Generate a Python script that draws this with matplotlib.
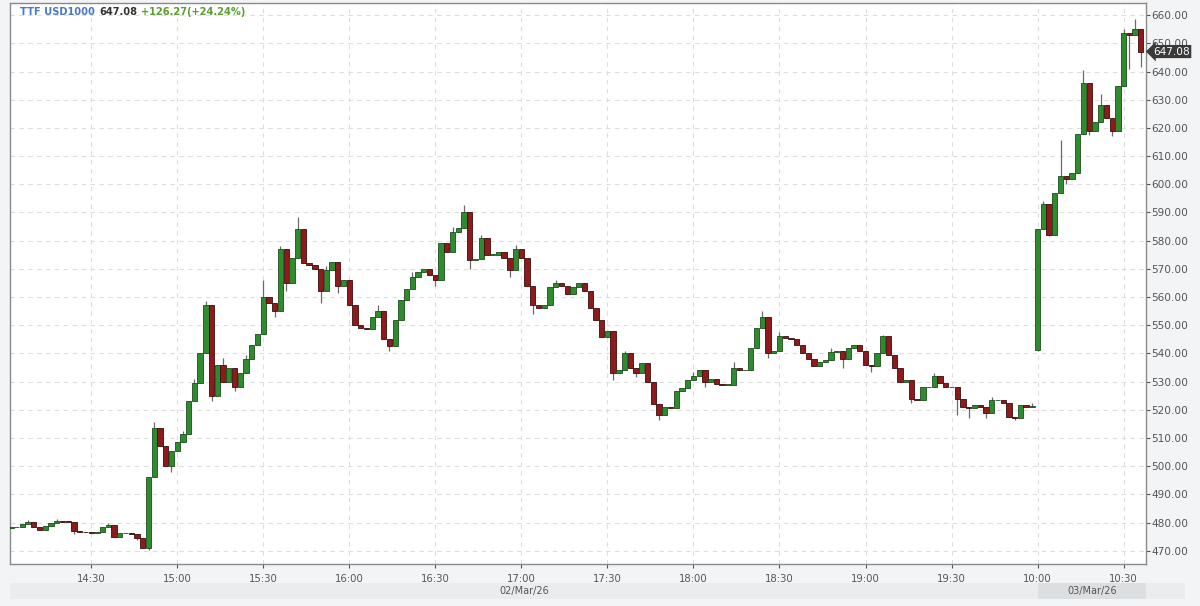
import matplotlib
matplotlib.use("Agg")
import matplotlib.pyplot as plt
import numpy as np
from matplotlib.patches import Rectangle
import matplotlib.transforms as mtransforms

# ---------------- data (2-minute candles, time index in minutes from 14:00; 20:00 joins 10:00 next day)
day1_t = list(range(2, 360, 2))
day1_open = 478.0
day1_close = [
    478.3, 478.5, 479.5, 480.2, 478.5, 477.5, 478.8, 480.0, 480.5, 480.3,
    480.2, 477.0, 476.8, 476.5, 476.2, 476.8, 478.4, 479.0, 475.0, 476.2,
    476.3, 476.0, 474.5, 471.0, 496.0, 513.5, 507.0, 500.0, 505.5, 508.5,
    511.5, 523.0, 529.5, 540.0, 557.0, 525.0, 536.0, 530.0, 535.0, 528.0,
    533.0, 538.0, 543.0, 547.0, 560.0, 558.0, 555.0, 577.0, 565.0, 574.0,
    584.0, 572.0, 571.5, 570.0, 562.0, 569.5, 572.5, 564.0, 566.0, 557.0,
    550.0, 549.0, 548.5, 553.0, 555.0, 545.0, 542.5, 552.0, 559.0, 563.0,
    567.0, 569.0, 570.0, 567.7, 566.0, 579.0, 576.0, 583.0, 584.5, 590.0,
    573.0, 573.5, 581.0, 575.0, 575.0, 576.0, 574.0, 569.5, 577.0, 574.0,
    564.0, 557.0, 556.0, 557.0, 563.5, 565.0, 564.0, 561.0, 563.5, 565.0,
    562.0, 556.0, 552.0, 545.8, 548.0, 533.0, 534.0, 540.0, 535.0, 533.0,
    536.5, 530.0, 522.0, 518.0, 521.0, 520.5, 526.5, 527.6, 530.5, 532.0,
    534.0, 530.0, 531.0, 529.0, 528.8, 528.8, 535.0, 534.0, 534.0, 542.0,
    549.0, 553.0, 540.0, 541.0, 546.0, 545.5, 545.0, 543.0, 540.0, 538.0,
    535.5, 537.0, 537.5, 540.5, 541.0, 538.0, 542.0, 543.0, 541.0, 536.0,
    535.5, 540.0, 546.0, 539.5, 535.0, 530.0, 530.5, 524.0, 523.5, 528.0,
    528.0, 532.0, 529.5, 528.0, 528.0, 524.0, 521.0, 520.5, 521.6, 521.0,
    519.0, 523.4, 523.5, 522.5, 517.5, 517.0, 521.6, 521.0, 521.0,
]
day2_t = list(range(360, 398, 2))
day2_open = 541.2
day2_close = [
    584.0, 593.0, 582.0, 596.8, 603.0, 602.0, 604.0, 618.0, 636.0, 619.0,
    622.0, 628.0, 623.6, 619.0, 635.0, 653.5, 653.0, 655.0, 647.08,
]
# visible wick extremes (time index -> price)
wick_high = {
    8: 481.0, 18: 481.3, 36: 479.8, 52: 515.6, 62: 512.5, 66: 531.0, 70: 558.5, 76: 538.5,
    84: 539.5, 90: 566.0, 96: 578.0, 102: 588.3, 112: 571.0, 130: 557.0, 142: 569.0,
    156: 585.0, 160: 592.5, 166: 582.0, 178: 578.5, 192: 566.0, 216: 541.0,
    240: 533.5, 254: 537.0, 264: 555.0, 270: 547.5, 288: 542.0, 306: 546.5,
    324: 533.0, 344: 524.5, 358: 522.5, 362: 594.0, 368: 615.6, 376: 640.4,
    382: 632.0, 390: 655.0, 394: 658.5,
}
wick_low = {
    24: 476.0, 46: 473.8, 50: 470.3, 58: 498.0, 72: 523.0, 80: 526.5, 94: 553.0,
    98: 562.0, 110: 558.0, 116: 561.5, 134: 541.0, 150: 564.0, 162: 570.0, 176: 567.0,
    184: 554.0, 212: 530.5, 220: 531.5, 228: 516.5, 244: 528.0, 266: 538.5,
    292: 534.8, 302: 533.5, 316: 522.5, 332: 518.0, 336: 517.0, 342: 517.0,
    352: 516.5, 360: 540.8, 364: 581.5, 370: 600.0, 378: 617.5, 386: 617.0,
    392: 641.0, 396: 641.5,
}
y_ticks = list(range(470, 661, 10))
x_tick_pos = [30, 60, 90, 120, 150, 180, 210, 240, 270, 300, 330, 360, 390]
x_tick_lab = ["14:30", "15:00", "15:30", "16:00", "16:30", "17:00", "17:30",
              "18:00", "18:30", "19:00", "19:30", "10:00", "10:30"]
day_labels = ["02/Mar/26", "03/Mar/26"]
title_name = "TTF USD1000"
last_price = 647.08
change_txt = "+126.27(+24.24%)"

# ---------------- build OHLC
t = np.array(day1_t + day2_t, dtype=float)
close = np.array(day1_close + day2_close)
opens = np.concatenate([[day1_open], day1_close[:-1], [day2_open], day2_close[:-1]])
high = np.maximum(opens, close)
low = np.minimum(opens, close)
for i, tt in enumerate(t):
    if int(tt) in wick_high:
        high[i] = max(high[i], wick_high[int(tt)])
    if int(tt) in wick_low:
        low[i] = min(low[i], wick_low[int(tt)])

W, H = 1200, 606
fig = plt.figure(figsize=(12, 6.06), dpi=100, facecolor="#f3f4f6")
ax = fig.add_axes([10 / W, 1 - 564 / H, (1146 - 10) / W, (564 - 3) / H])
ax.set_facecolor("white")

up = close >= opens
face = np.where(up, "#2e8b2e", "#8e1b1b")
edge = np.where(up, "#1d4d1d", "#3d0c0c")
ax.vlines(t, low, high, color="#6a6a6a", lw=0.9, zorder=2)
body_bot = np.minimum(opens, close)
body_h = np.maximum(np.abs(close - opens), 0.2)
ax.bar(t, body_h, bottom=body_bot, width=1.85, color=face, edgecolor=edge,
       linewidth=0.6, zorder=3)

ax.set_xlim(1.7, 397.8)
ax.set_ylim(465.3, 664.3)

# grid
ax.set_yticks(y_ticks)
ax.set_xticks(x_tick_pos)
ax.grid(True, color="#dedede", linestyle=(0, (4, 4)), linewidth=0.8, zorder=0)

# axes styling
ax.yaxis.tick_right()
ax.set_yticklabels([f"{v:.2f}" for v in y_ticks])
ax.set_xticklabels(x_tick_lab)
ax.tick_params(axis="y", colors="#555555", labelsize=7.6, length=3, width=0.8, pad=1)
ax.tick_params(axis="x", colors="#555555", labelsize=7.3, length=3, width=0.8, pad=4)
for lab in ax.get_xticklabels():
    lab.set_family(["Liberation Sans Narrow", "DejaVu Sans"])
for sp in ax.spines.values():
    sp.set_color("#8a8a8a")
    sp.set_linewidth(1.0)

# date band under the axis
fig.patches.append(Rectangle((10 / W, 1 - 599 / H), (1185 - 10) / W, 16 / H,
                             transform=fig.transFigure, fc="#eaecee", ec="none", zorder=0))
blend = mtransforms.blended_transform_factory(ax.transData, fig.transFigure)
fig.patches.append(Rectangle((360, 1 - 599 / H), 397.8 - 360, 16 / H,
                             transform=blend, fc="#dcdfe2", ec="none", zorder=1))
fig.text(0.5 * (1.7 + 360), 1 - 591 / H, day_labels[0], transform=blend, ha="center",
         va="center", fontsize=7, color="#555555",
         family=["Liberation Sans Narrow", "DejaVu Sans"])
fig.text(0.5 * (360 + 397.8), 1 - 591 / H, day_labels[1], transform=blend, ha="center",
         va="center", fontsize=7, color="#555555",
         family=["Liberation Sans Narrow", "DejaVu Sans"])

# title
fig.canvas.draw()
r = fig.canvas.get_renderer()
x0 = 20
ty = 1 - 12 / H
for txt, col in [(title_name, "#4a78c9"), (f"{last_price:.2f}", "#333333"), (change_txt, "#5a9e2f")]:
    tx = fig.text(x0 / W, ty, txt, ha="left", va="center", fontsize=7.1,
                  fontweight="bold", color=col)
    bb = tx.get_window_extent(r)
    x0 = bb.x1 + 4

# last price marker
ax.annotate(f"{last_price:.2f}", xy=(1, last_price), xycoords=("axes fraction", "data"),
            xytext=(5, 0), textcoords="offset points", ha="left", va="center",
            fontsize=7.6, color="white", zorder=10, annotation_clip=False,
            bbox=dict(boxstyle="larrow,pad=0.15", fc="#3a3a3a", ec="none"))

fig.savefig("out.png", dpi=100, facecolor=fig.get_facecolor())
